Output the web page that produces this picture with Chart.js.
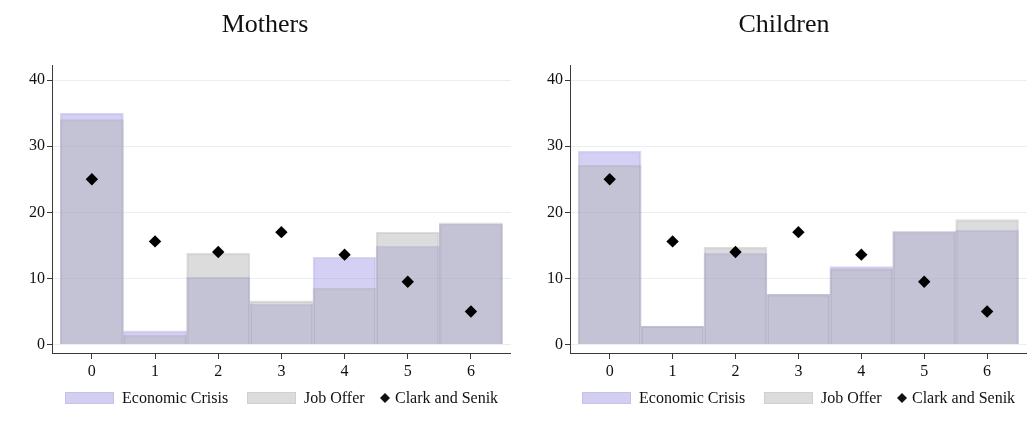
<!DOCTYPE html>
<html>
<head>
<meta charset="utf-8">
<script src="https://cdn.jsdelivr.net/npm/chart.js@4/dist/chart.umd.min.js"></script>
<style>
  html, body { margin: 0; padding: 0; background: #fff; }
  #wrap { position: relative; width: 1033px; height: 423px; }
  .panel { position: absolute; top: 0; height: 423px; }
  #p1 { left: 0; width: 517px; }
  #p2 { left: 517px; width: 516px; }
</style>
</head>
<body>
<div id="wrap">
  <div class="panel" id="p1"><canvas id="mothers" width="517" height="423"></canvas></div>
  <div class="panel" id="p2"><canvas id="children" width="516" height="423"></canvas></div>
</div>
<script>
// Number of outcomes on the horizontal axis
const categories = [0, 1, 2, 3, 4, 5, 6];
const yTickValues = [0, 10, 20, 30, 40];

// Mothers panel (percent)
const mothersCrisis = [35.0, 2.1, 10.2, 6.1, 13.2, 14.9, 18.2];
const mothersJobOffer = [34.0, 1.4, 13.8, 6.6, 8.5, 17.0, 18.4];

// Children panel (percent)
const childrenCrisis = [29.2, 2.8, 13.8, 7.6, 11.8, 17.1, 17.3];
const childrenJobOffer = [27.1, 2.8, 14.7, 7.6, 11.4, 17.1, 18.9];

// Benchmark shares, same in both panels
const clarkSenik = [25.0, 15.6, 14.0, 17.0, 13.6, 9.5, 5.0];

const seriesNames = ['Economic Crisis', 'Job Offer', 'Clark and Senik'];

const SERIF = '"Liberation Serif", "DejaVu Serif", serif';
const AXIS = '#3a3a3a';
const GRID = '#e6eff1';
const PURPLE_FILL = 'rgba(160,150,228,0.45)';
const PURPLE_EDGE = 'rgba(150,140,220,0.35)';
const GRAY_FILL = 'rgba(177,177,177,0.45)';
const GRAY_EDGE = 'rgba(160,160,160,0.35)';

const toPoints = arr => arr.map((v, i) => ({ x: categories[i], y: v }));

// Panel heading and legend row, drawn on the canvas
const decorations = {
  id: 'decorations',
  afterDraw(chart, args, opts) {
    const ctx = chart.ctx;
    ctx.save();
    ctx.fillStyle = '#111';
    ctx.font = '26px ' + SERIF;
    ctx.textAlign = 'center';
    ctx.textBaseline = 'alphabetic';
    ctx.fillText(opts.title, opts.titleX, 32);

    const cy = 398;
    ctx.font = '16px ' + SERIF;
    ctx.textAlign = 'left';
    ctx.textBaseline = 'middle';
    ctx.lineWidth = 1;
    // Economic Crisis swatch
    ctx.fillStyle = '#d3cff0';
    ctx.fillRect(65, cy - 6, 49, 12);
    ctx.strokeStyle = '#c5c1ea';
    ctx.strokeRect(65.5, cy - 5.5, 48, 11);
    ctx.fillStyle = '#111';
    ctx.fillText(seriesNames[0], 122, cy + 1);
    // Job Offer swatch
    ctx.fillStyle = '#dcdcdc';
    ctx.fillRect(247, cy - 6, 49, 12);
    ctx.strokeStyle = '#d0d0d0';
    ctx.strokeRect(247.5, cy - 5.5, 48, 11);
    ctx.fillStyle = '#111';
    ctx.fillText(seriesNames[1], 304, cy + 1);
    // Clark and Senik marker
    const dx = 385, r = 5;
    ctx.beginPath();
    ctx.moveTo(dx, cy - r);
    ctx.lineTo(dx + r, cy);
    ctx.lineTo(dx, cy + r);
    ctx.lineTo(dx - r, cy);
    ctx.closePath();
    ctx.fill();
    ctx.fillText(seriesNames[2], 395, cy + 1);
    ctx.restore();
  }
};

function makeChart(canvasId, title, titleX, crisis, jobOffer, yAxisWidth, rightPad) {
  return new Chart(document.getElementById(canvasId), {
    type: 'bar',
    data: {
      datasets: [
        {
          type: 'scatter',
          label: seriesNames[2],
          data: toPoints(clarkSenik),
          pointStyle: 'rectRot',
          pointRadius: 6.2,
          pointHoverRadius: 6.2,
          backgroundColor: '#000',
          borderColor: '#000',
          borderWidth: 0,
          order: 0
        },
        {
          label: seriesNames[1],
          data: toPoints(jobOffer),
          backgroundColor: GRAY_FILL,
          borderColor: GRAY_EDGE,
          borderWidth: 1.5,
          borderSkipped: 'start',
          grouped: false,
          barPercentage: 1,
          categoryPercentage: 1,
          order: 1
        },
        {
          label: seriesNames[0],
          data: toPoints(crisis),
          backgroundColor: PURPLE_FILL,
          borderColor: PURPLE_EDGE,
          borderWidth: 1.5,
          borderSkipped: 'start',
          grouped: false,
          barPercentage: 1,
          categoryPercentage: 1,
          order: 2
        }
      ]
    },
    options: {
      responsive: false,
      animation: false,
      layout: { padding: { top: 65, bottom: 0, left: 0, right: rightPad } },
      plugins: {
        legend: { display: false },
        tooltip: { enabled: false },
        title: { display: false },
        decorations: { title: title, titleX: titleX }
      },
      scales: {
        x: {
          type: 'linear',
          offset: false,
          min: -0.631,
          max: 6.631,
          afterBuildTicks: s => { s.ticks = categories.map(v => ({ value: v })); },
          afterFit: s => { s.height = 70; },
          border: { display: true, color: AXIS, width: 1 },
          grid: {
            offset: false,
            drawOnChartArea: false,
            drawTicks: true,
            tickLength: 6,
            tickColor: AXIS,
            tickWidth: 1
          },
          ticks: {
            color: '#111',
            padding: 3,
            font: { family: SERIF, size: 16 },
            maxRotation: 0
          }
        },
        y: {
          min: -1.27,
          max: 42.27,
          afterBuildTicks: s => { s.ticks = yTickValues.map(v => ({ value: v })); },
          afterFit: s => { s.width = yAxisWidth; },
          border: { display: true, color: AXIS, width: 1 },
          grid: {
            color: GRID,
            lineWidth: 1,
            drawTicks: true,
            tickLength: 5,
            tickColor: AXIS,
            tickWidth: 1
          },
          ticks: {
            color: '#111',
            padding: 2,
            font: { family: SERIF, size: 16 }
          }
        }
      }
    },
    plugins: [decorations]
  });
}

makeChart('mothers', 'Mothers', 265, mothersCrisis, mothersJobOffer, 52, 5);
makeChart('children', 'Children', 267, childrenCrisis, childrenJobOffer, 53, 3);
</script>
</body>
</html>
